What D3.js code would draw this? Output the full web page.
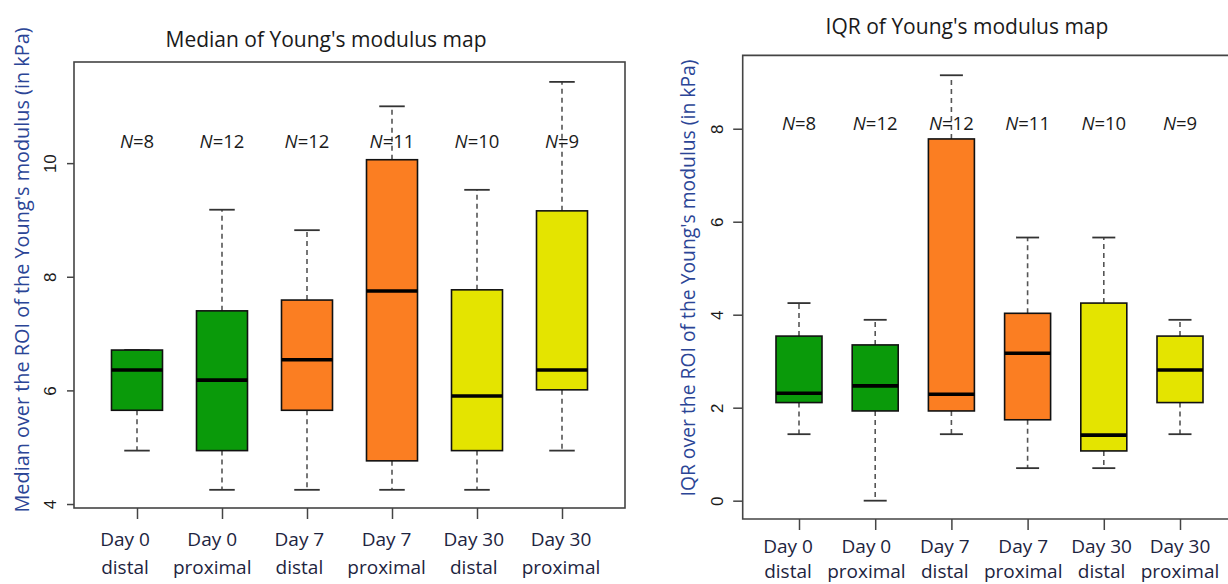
<!DOCTYPE html>
<html><head><meta charset="utf-8">
<script src="https://cdn.jsdelivr.net/npm/d3@7"></script>
<style>body{margin:0;background:#fff} svg{display:block}</style>
</head><body><svg id="chart" width="1228" height="584"></svg>
<script>
// ---- data ----
const groupKeys   = ["d0d","d0p","d7d","d7p","d30d","d30p"];
const dayLabels   = ["Day 0","Day 0","Day 7","Day 7","Day 30","Day 30"];
const siteLabels  = ["distal","proximal","distal","proximal","distal","proximal"];
const sampleSizes = [8,12,12,11,10,9];
const groupColors = ["#0a9a0a","#0a9a0a","#fb7e22","#fb7e22","#e4e400","#e4e400"];

// Median of Young's modulus map (kPa)
const medLow  = [4.94, 4.25, 4.25, 4.25, 4.25, 4.94];
const medQ1   = [5.65, 4.94, 5.65, 4.76, 4.94, 6.01];
const medMed  = [6.36, 6.18, 6.54, 7.75, 5.90, 6.36];
const medQ3   = [6.71, 7.40, 7.59, 10.06, 7.77, 9.16];
const medHigh = [6.71, 9.18, 8.82, 11.00, 9.53, 11.43];
const medTicks = [4, 6, 8, 10];

// IQR of Young's modulus map (kPa)
const iqrLow  = [1.43, 0.00, 1.43, 0.70, 0.70, 1.43];
const iqrQ1   = [2.11, 1.93, 1.93, 1.74, 1.07, 2.11];
const iqrMed  = [2.31, 2.47, 2.29, 3.17, 1.41, 2.81];
const iqrQ3   = [3.54, 3.35, 7.78, 4.03, 4.25, 3.54];
const iqrHigh = [4.25, 3.89, 9.15, 5.66, 5.66, 3.89];
const iqrTicks = [0, 2, 4, 6, 8];

const svg = d3.select("#chart");
const TXT = "'Open Sans', 'Noto Sans', sans-serif";
const NUM = "'Liberation Sans', Arial, sans-serif";

function panel(cfg) {
  const g = svg.append("g");
  const rows = groupKeys.map((k, i) => ({
    key: k, day: dayLabels[i], site: siteLabels[i], n: sampleSizes[i], color: groupColors[i],
    low: cfg.low[i], q1: cfg.q1[i], med: cfg.med[i], q3: cfg.q3[i], high: cfg.high[i]
  }));
  const x = d3.scalePoint().domain(groupKeys).range(cfg.tickRange);
  const xl = d3.scalePoint().domain(groupKeys).range(cfg.labelRange);
  const y = d3.scaleLinear().domain(cfg.yDomain).range([cfg.bottom, cfg.top]);

  // frame
  if (cfg.closed) {
    g.append("rect").attr("x", cfg.left).attr("y", cfg.top)
      .attr("width", cfg.right - cfg.left).attr("height", cfg.bottom - cfg.top)
      .attr("fill", "none").attr("stroke", "#444").attr("stroke-width", 1.6);
  } else {
    g.append("path").attr("d", `M${cfg.right},${cfg.top}H${cfg.left}V${cfg.bottom}H${cfg.right}`)
      .attr("fill", "none").attr("stroke", "#444").attr("stroke-width", 1.6);
  }

  // y axis
  const ya = g.append("g").attr("transform", `translate(${cfg.left},0)`)
    .call(d3.axisLeft(y).tickValues(cfg.ticks).tickSize(cfg.yTickLen).tickSizeOuter(0).tickFormat(d3.format("d")));
  ya.select(".domain").remove();
  ya.selectAll(".tick line").attr("stroke", "#444").attr("stroke-width", 1.5);
  ya.selectAll(".tick text")
    .attr("x", null).attr("dy", null)
    .attr("transform", `translate(${cfg.yLabelOff},0) rotate(-90)`)
    .attr("text-anchor", "middle")
    .style("font-family", NUM).style("font-size", "17px").attr("fill", "#1a1a1a");

  // x axis ticks
  const xa = g.append("g").attr("transform", `translate(0,${cfg.bottom})`)
    .call(d3.axisBottom(x).tickSize(11).tickSizeOuter(0).tickFormat(""));
  xa.select(".domain").remove();
  xa.selectAll(".tick line").attr("stroke", "#444").attr("stroke-width", 1.5);

  // x labels
  const lab = g.append("g").selectAll("text").data(rows).join("text")
    .attr("text-anchor", "middle")
    .style("font-family", TXT).style("font-size", "19px").attr("fill", "#1d2440");
  lab.append("tspan").attr("x", d => xl(d.key)).attr("y", cfg.lab1).text(d => d.day);
  lab.append("tspan").attr("x", d => xl(d.key)).attr("y", cfg.lab2).text(d => d.site);

  // boxes
  const bw = cfg.boxW;
  const b = g.append("g").selectAll("g").data(rows).join("g");
  b.append("line").attr("x1", d => x(d.key)).attr("x2", d => x(d.key))
    .attr("y1", d => y(d.q3)).attr("y2", d => y(d.high))
    .attr("stroke", "#555").attr("stroke-width", 1.6).attr("stroke-dasharray", "5,4");
  b.append("line").attr("x1", d => x(d.key)).attr("x2", d => x(d.key))
    .attr("y1", d => y(d.q1)).attr("y2", d => y(d.low))
    .attr("stroke", "#555").attr("stroke-width", 1.6).attr("stroke-dasharray", "5,4");
  b.append("line").attr("x1", d => x(d.key) - bw / 4).attr("x2", d => x(d.key) + bw / 4)
    .attr("y1", d => y(d.high)).attr("y2", d => y(d.high))
    .attr("stroke", "#333").attr("stroke-width", 1.8);
  b.append("line").attr("x1", d => x(d.key) - bw / 4).attr("x2", d => x(d.key) + bw / 4)
    .attr("y1", d => y(d.low)).attr("y2", d => y(d.low))
    .attr("stroke", "#333").attr("stroke-width", 1.8);
  b.append("rect").attr("x", d => x(d.key) - bw / 2).attr("width", bw)
    .attr("y", d => y(d.q3)).attr("height", d => y(d.q1) - y(d.q3))
    .attr("fill", d => d.color).attr("stroke", "#111").attr("stroke-width", 1.6);
  b.append("line").attr("x1", d => x(d.key) - bw / 2).attr("x2", d => x(d.key) + bw / 2)
    .attr("y1", d => y(d.med)).attr("y2", d => y(d.med))
    .attr("stroke", "#000").attr("stroke-width", 3.6);

  // N labels
  const nl = g.append("g").selectAll("text").data(rows).join("text")
    .attr("x", d => x(d.key)).attr("y", cfg.nBase).attr("text-anchor", "middle")
    .style("font-family", TXT).style("font-size", "18.5px").attr("fill", "#1a1a1a");
  nl.append("tspan").style("font-style", "italic").text("N");
  nl.append("tspan").text(d => cfg.nSep + d.n);

  // title
  g.append("text").attr("x", cfg.titleX).attr("y", cfg.titleY).attr("text-anchor", "middle")
    .style("font-family", TXT).style("font-size", "21px").attr("fill", "#1a1a1a").text(cfg.title);

  // y title
  g.append("text").attr("transform", `translate(${cfg.yTitleX},${cfg.yTitleY}) rotate(-90)`)
    .attr("text-anchor", "middle").attr("textLength", cfg.yTitleLen).attr("lengthAdjust", "spacingAndGlyphs")
    .style("font-family", TXT).style("font-size", "19.5px").attr("fill", "#2b4596").text(cfg.yTitle);
}

panel({
  low: medLow, q1: medQ1, med: medMed, q3: medQ3, high: medHigh, ticks: medTicks,
  left: 74, right: 625, top: 62, bottom: 508, closed: true,
  yDomain: [3.93, 11.78], tickRange: [137, 562], labelRange: [125, 561],
  boxW: 51, yTickLen: 7, yLabelOff: -18, lab1: 546, lab2: 574, nBase: 148, nSep: "=",
  title: "Median of Young's modulus map", titleX: 326, titleY: 47,
  yTitle: "Median over the ROI of the Young's modulus (in kPa)", yTitleX: 29, yTitleY: 270, yTitleLen: 485
});

panel({
  low: iqrLow, q1: iqrQ1, med: iqrMed, q3: iqrQ3, high: iqrHigh, ticks: iqrTicks,
  left: 742.7, right: 1232, top: 55.4, bottom: 519, closed: false,
  yDomain: [-0.394, 9.577], tickRange: [799, 1180], labelRange: [788, 1180],
  boxW: 46, yTickLen: 9.5, yLabelOff: -20, lab1: 553, lab2: 578, nBase: 130, nSep: "=",
  title: "IQR of Young's modulus map", titleX: 967, titleY: 34,
  yTitle: "IQR over the ROI of the Young's modulus (in kPa)", yTitleX: 695, yTitleY: 278, yTitleLen: 437
});
</script>
</body></html>
